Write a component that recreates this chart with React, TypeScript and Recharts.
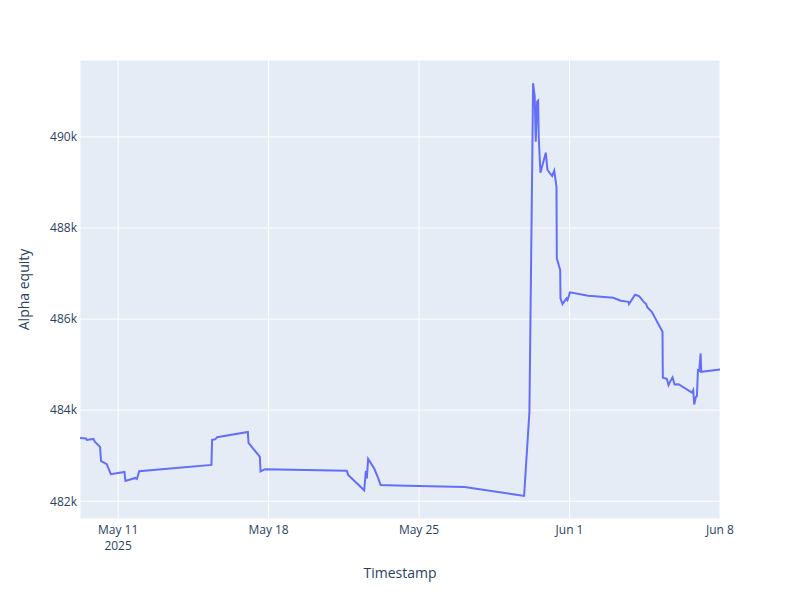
import React from 'react';
import { LineChart, Line, XAxis, YAxis, CartesianGrid } from 'recharts';

// timestamps (UTC) and equity values
const stamps = [
  '2025-05-09 05:26', '2025-05-09 12:10', '2025-05-09 12:56', '2025-05-09 20:20', '2025-05-09 22:14',
  '2025-05-10 03:50', '2025-05-10 04:58', '2025-05-10 11:20', '2025-05-10 15:49', '2025-05-11 07:04',
  '2025-05-11 08:11', '2025-05-11 19:02', '2025-05-11 20:56', '2025-05-11 23:31', '2025-05-15 08:10',
  '2025-05-15 08:56', '2025-05-15 12:38', '2025-05-15 14:32', '2025-05-17 00:49', '2025-05-17 01:36',
  '2025-05-17 14:15', '2025-05-17 15:02', '2025-05-17 19:51', '2025-05-21 15:21', '2025-05-21 16:49',
  '2025-05-22 10:44', '2025-05-22 12:38', '2025-05-22 13:45', '2025-05-22 15:06', '2025-05-22 21:56',
  '2025-05-23 01:18', '2025-05-23 05:06', '2025-05-23 22:14', '2025-05-27 02:44', '2025-05-29 10:44',
  '2025-05-29 21:16', '2025-05-30 03:12', '2025-05-30 06:34', '2025-05-30 07:20', '2025-05-30 09:08',
  '2025-05-30 10:16', '2025-05-30 11:49', '2025-05-30 12:56', '2025-05-30 13:37', '2025-05-30 15:31',
  '2025-05-30 21:28', '2025-05-30 23:22', '2025-05-31 02:43', '2025-05-31 04:37', '2025-05-31 06:52',
  '2025-05-31 09:26', '2025-05-31 09:47', '2025-05-31 13:35', '2025-05-31 13:55', '2025-05-31 16:10',
  '2025-05-31 20:38', '2025-05-31 21:46', '2025-05-31 23:13', '2025-06-01 00:20', '2025-06-01 20:56',
  '2025-06-03 00:56', '2025-06-03 09:07', '2025-06-03 17:44', '2025-06-03 18:25', '2025-06-04 01:08',
  '2025-06-04 05:37', '2025-06-04 08:38', '2025-06-04 11:40', '2025-06-04 13:07', '2025-06-04 15:01',
  '2025-06-04 19:50', '2025-06-05 07:49', '2025-06-05 08:10', '2025-06-05 12:38', '2025-06-05 14:32',
  '2025-06-05 17:07', '2025-06-05 19:01', '2025-06-05 21:16', '2025-06-06 01:44', '2025-06-06 16:38',
  '2025-06-06 18:06', '2025-06-06 19:13', '2025-06-06 21:07', '2025-06-06 22:14', '2025-06-06 23:22',
  '2025-06-07 00:49', '2025-06-07 02:23', '2025-06-07 03:04', '2025-06-08 00:00',
];

const equity = [
  483391, 483378, 483347, 483369, 483303,
  483193, 482879, 482813, 482593, 482644,
  482446, 482512, 482490, 482659, 482798,
  483347, 483363, 483407, 483523, 483281,
  482974, 482653, 482703, 482670, 482578,
  482242, 482666, 482499, 482930, 482719,
  482560, 482358, 482345, 482314, 482147,
  482116, 483956, 489787, 491180, 490886,
  489897, 490776, 490798, 490006, 489215,
  489655, 489275, 489187, 489143, 489259,
  488908, 487334, 487077, 486455, 486330,
  486455, 486418, 486506, 486587, 486512,
  486468, 486402, 486380, 486330, 486534,
  486505, 486433, 486358, 486345, 486257,
  486160, 485721, 484710, 484688, 484549,
  484659, 484719, 484565, 484571, 484385,
  484440, 484125, 484292, 484308, 484879,
  484864, 485246, 484842, 484894,
];

const xTickDates = ['2025-05-11 00:00', '2025-05-18 00:00', '2025-05-25 00:00', '2025-06-01 00:00', '2025-06-08 00:00'];
const xTickLabels = ['May 11', 'May 18', 'May 25', 'Jun 1', 'Jun 8'];
const yTicks = [482000, 484000, 486000, 488000, 490000];

const toMs = (s: string) => Date.parse(s.replace(' ', 'T') + ':00Z');

const data = stamps.map((s, i) => ({ t: toMs(s), v: equity[i] }));
const xTicks = xTickDates.map(toMs);

const FONT = '"Open Sans", verdana, arial, sans-serif';
const TEXT = '#2a3f5f';

// date tick, first one carries the year underneath like plotly does
const XTick = (props: any) => {
  const { x, y, payload, index } = props;
  const i = xTicks.indexOf(payload.value);
  return (
    <g>
      <text x={x} y={y + 9} textAnchor="middle" fill={TEXT} fontSize={12} fontFamily={FONT}>
        {xTickLabels[i]}
      </text>
      {index === 0 && (
        <text x={x} y={y + 25} textAnchor="middle" fill={TEXT} fontSize={12} fontFamily={FONT}>
          2025
        </text>
      )}
    </g>
  );
};

const App: React.FC = () => {
  return (
    <div style={{ position: 'absolute', left: 0, top: 0, width: 800, height: 600, background: '#fff' }}>
      <LineChart width={800} height={600} data={data} margin={{ top: 60, right: 80, bottom: 0, left: 0 }}>
        <CartesianGrid fill="#E5ECF6" stroke="#ffffff" strokeWidth={1} />
        <XAxis
          dataKey="t"
          type="number"
          scale="time"
          domain={[data[0].t, xTicks[4]]}
          ticks={xTicks}
          tick={<XTick />}
          height={81}
          axisLine={false}
          tickLine={false}
          tickSize={0}
          tickMargin={6}
          label={{ value: 'Timestamp', position: 'insideBottom', offset: 22, fill: TEXT, fontSize: 14, fontFamily: FONT }}
        />
        <YAxis
          type="number"
          domain={[481610, 491690]}
          ticks={yTicks}
          tickFormatter={(v: number) => `${v / 1000}k`}
          width={80}
          axisLine={false}
          tickLine={false}
          tickSize={0}
          tickMargin={3}
          tick={{ fill: TEXT, fontSize: 12, fontFamily: FONT }}
          label={{ value: 'Alpha equity', angle: -90, position: 'insideLeft', offset: 24, fill: TEXT, fontSize: 14, fontFamily: FONT, style: { textAnchor: 'middle' } }}
        />
        <Line type="linear" dataKey="v" stroke="#636efa" strokeWidth={2} dot={false} isAnimationActive={false} />
      </LineChart>
    </div>
  );
};

export default App;
